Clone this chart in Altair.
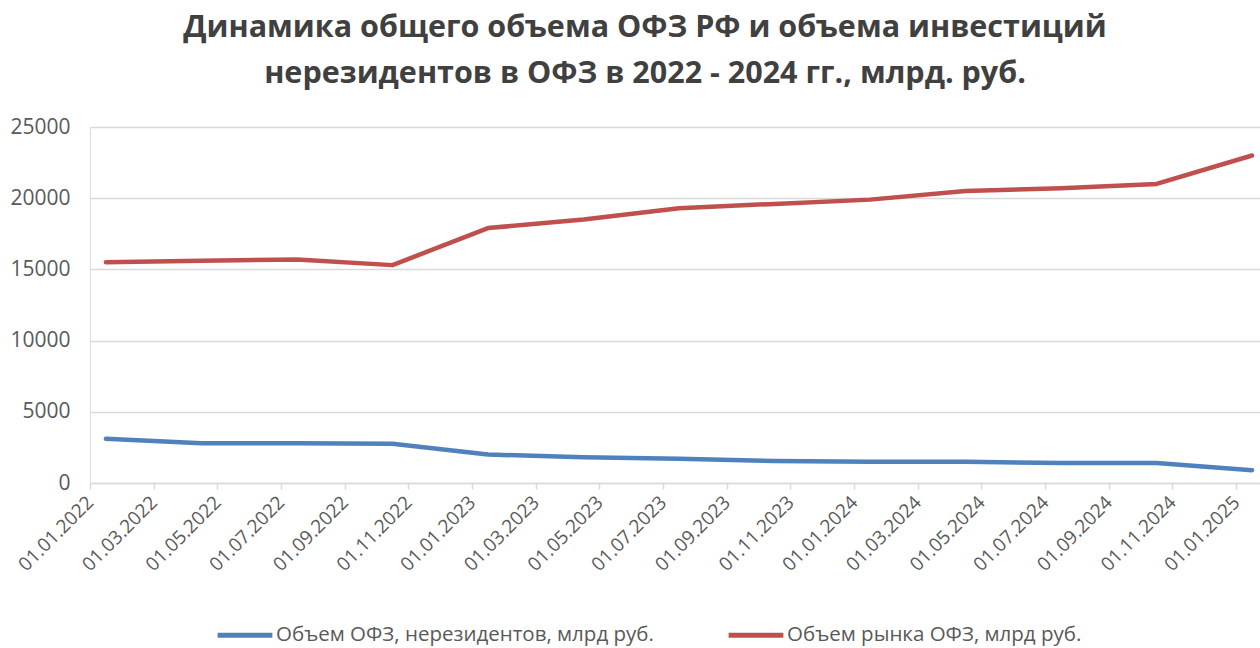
import altair as alt
import pandas as pd

dates = ["01.01.2022", "01.04.2022", "01.07.2022", "01.10.2022",
         "01.01.2023", "01.04.2023", "01.07.2023", "01.10.2023",
         "01.01.2024", "01.04.2024", "01.07.2024", "01.10.2024",
         "01.01.2025"]
nonres = [3100, 2800, 2800, 2750, 2000, 1800, 1700, 1550, 1500, 1500, 1400, 1400, 900]
market = [15500, 15600, 15700, 15300, 17900, 18500, 19300, 19600, 19900, 20500, 20700, 21000, 23000]

s1 = "Объем ОФЗ, нерезидентов, млрд руб."
s2 = "Объем рынка ОФЗ, млрд руб."
series_names = [s1, s2]
series_colors = ["#4F81BD", "#C0504D"]
title_lines = ["Динамика общего объема ОФЗ РФ и объема инвестиций",
               "нерезидентов в ОФЗ в 2022 - 2024 гг., млрд. руб."]
y_ticks = [0, 5000, 10000, 15000, 20000, 25000]
x_ticks = list(range(0, 37, 2))


def month_pos(d):
    dd, mm, yy = d.split(".")
    return (int(yy) - 2022) * 12 + int(mm) - 1 + 0.5


rows = []
for name, vals in ((s1, nonres), (s2, market)):
    for d, v in zip(dates, vals):
        rows.append({"series": name, "date": d, "m": month_pos(d), "value": v})
df = pd.DataFrame(rows)

FONT = "Open Sans"
label_expr = ("'01.' + ((datum.value % 12) + 1 < 10 ? '0' : '') + ((datum.value % 12) + 1)"
              " + '.' + (2022 + floor(datum.value / 12))")

chart = alt.Chart(df).mark_line(strokeWidth=4.5, strokeCap="round", strokeJoin="round").encode(
    x=alt.X("m:Q",
            scale=alt.Scale(domain=[0, 36.75], nice=False, zero=False),
            axis=alt.Axis(values=x_ticks, labelExpr=label_expr, labelAngle=-45,
                          labelAlign="right", labelBaseline="middle", labelPadding=10,
                          labelFont=FONT, labelFontSize=19, labelColor="#595959",
                          grid=False, domainColor="#D9D9D9", domainWidth=1.5,
                          tickColor="#D9D9D9", tickSize=6, tickWidth=1.5,
                          title=None, labelOverlap=False, labelBound=False, labelFlush=False)),
    y=alt.Y("value:Q",
            scale=alt.Scale(domain=[0, 25000], nice=False),
            axis=alt.Axis(values=y_ticks, format="d", labelFont=FONT, labelFontSize=21,
                          labelColor="#595959", labelPadding=20, domain=False, ticks=False,
                          gridColor="#D9D9D9", gridWidth=1.5, title=None)),
    color=alt.Color("series:N",
                    scale=alt.Scale(domain=series_names, range=series_colors),
                    sort=series_names,
                    legend=alt.Legend(orient="none", legendX=125, legendY=478,
                                      direction="horizontal", title=None,
                                      symbolType="stroke", symbolSize=3000,
                                      symbolStrokeWidth=5, labelFont=FONT,
                                      labelFontSize=20.5, labelColor="#595959",
                                      labelLimit=600,
                                      columnPadding=64, labelOffset=1)),
    order=alt.Order("m:Q"),
).properties(
    width=1170,
    height=356,
    title=alt.TitleParams(text=title_lines, font=FONT, fontSize=30.5, fontWeight="bold",
                          color="#404040", anchor="middle", offset=27, lineHeight=46,
                          dx=-30),
    autosize=alt.AutoSizeParams(type="none"),
    padding={"left": 90, "top": 127, "right": 0, "bottom": 165},
).configure_view(stroke=None).configure(background="white")

chart.save("out.html", embed_options={"renderer": "svg", "actions": False})
